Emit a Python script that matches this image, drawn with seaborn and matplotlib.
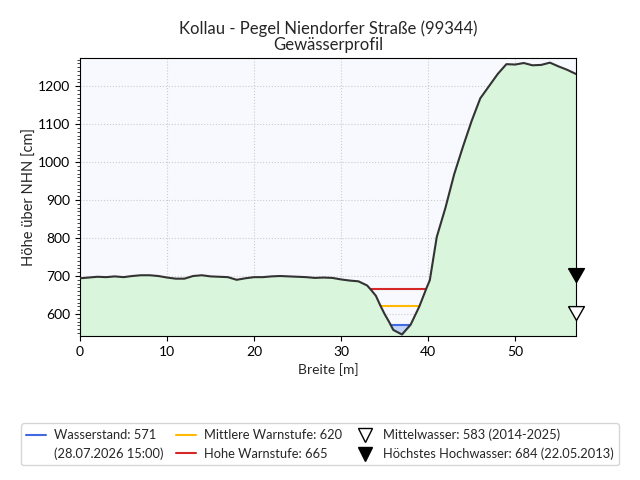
import numpy as np
import pandas as pd
import seaborn as sns
import matplotlib.pyplot as plt
from matplotlib.ticker import MultipleLocator
from matplotlib.lines import Line2D

# profile of the river bed (distance in m, height in cm above NHN)
breite = [0, 1, 2, 3, 4, 5, 6, 7, 8, 9, 10, 11, 12, 13, 14, 15, 16, 17, 18, 19,
          20, 21, 22, 23, 24, 25, 26, 27, 28, 29, 30, 31, 32, 33, 33.5, 34, 34.5,
          35, 35.5, 36, 37, 38, 39, 39.8, 40.2, 41, 42, 43, 44, 45, 46, 47, 48,
          49, 50, 51, 52, 53, 54, 55, 56, 57]
hoehe = [694, 696, 698, 697, 699, 697, 700, 702, 702, 700, 696, 693, 693, 700,
         702, 699, 698, 697, 690, 694, 697, 697, 699, 700, 699, 698, 697, 695,
         696, 695, 691, 688, 686, 675, 662, 648, 623, 600, 580, 558, 546, 572,
         620, 667, 689, 803, 880, 968, 1040, 1108, 1168, 1200, 1232, 1258, 1257,
         1261, 1255, 1256, 1262, 1252, 1243, 1232]

wasserstand = 571
mittlere_warnstufe = 620
hohe_warnstufe = 665
mittelwasser = 583
hhw = 684

sns.set_style("ticks")
plt.rcParams['font.family'] = ['Lato', 'DejaVu Sans']

df = pd.DataFrame({'Breite': breite, 'Hoehe': hoehe})

fig, ax = plt.subplots(figsize=(6.4, 4.8), dpi=100)
fig.subplots_adjust(left=0.125, right=0.9, top=0.879, bottom=0.3)
ax.set_facecolor('#f8f8ff')

xmax = max(breite)
ymin = min(hoehe) - 4
ymax = max(hoehe) + 12

# ground fill and outline
ax.fill_between(df['Breite'], ymin, df['Hoehe'], color='#d9f5dc', zorder=1)
sns.lineplot(data=df, x='Breite', y='Hoehe', ax=ax, color='#333333', linewidth=1.5, zorder=5)


def crossing(level):
    # left and right point where the channel reaches this level
    x = np.array(breite, dtype=float)
    y = np.array(hoehe, dtype=float)
    low = int(np.argmin(y))
    left = np.interp(level, y[:low + 1][::-1], x[:low + 1][::-1])
    right = np.interp(level, y[low:], x[low:])
    return left, right


# water body
xf = np.linspace(*crossing(wasserstand), 50)
yf = np.interp(xf, breite, hoehe)
ax.fill_between(xf, yf, wasserstand, color='#c4d4f4', zorder=2)

for level, col in [(wasserstand, '#4169e1'), (mittlere_warnstufe, '#ffb900'),
                   (hohe_warnstufe, '#d62728')]:
    l, r = crossing(level)
    ax.hlines(level, l, r, color=col, linewidth=1.5, zorder=3)

# triangle with its tip at the marked level
tip_down = [(-0.57, 1), (0.57, 1), (0, 0), (-0.57, 1)]
ax.plot(xmax, mittelwasser, marker=tip_down, markersize=20, markerfacecolor='white',
        markeredgecolor='black', markeredgewidth=1, clip_on=False, zorder=6, linestyle='none')
ax.plot(xmax, hhw, marker=tip_down, markersize=20, color='black', clip_on=False,
        zorder=6, linestyle='none')

ax.set_xlim(0, xmax)
ax.set_ylim(ymin, ymax)
ax.xaxis.set_major_locator(MultipleLocator(10))
ax.yaxis.set_major_locator(MultipleLocator(100))
ax.yaxis.set_minor_locator(MultipleLocator(10))
ax.grid(True, which='major', linestyle=':', color='#cccccc', linewidth=0.8)
for s in ax.spines.values():
    s.set_color('black')
ax.tick_params(colors='black')

ax.set_title('Kollau - Pegel Niendorfer Straße (99344)\nGewässerprofil', fontsize=12, linespacing=1.0)
ax.set_xlabel('Breite [m]', fontsize=10)
ax.set_ylabel('Höhe über NHN [cm]', fontsize=10.5, labelpad=0.5)

handles = [
    Line2D([], [], color='#4169e1', linewidth=1.5),
    Line2D([], [], color='none'),
    Line2D([], [], color='#ffb900', linewidth=1.5),
    Line2D([], [], color='#d62728', linewidth=1.5),
    Line2D([], [], marker='v', markersize=10, markerfacecolor='white',
           markeredgecolor='black', linestyle='none'),
    Line2D([], [], marker='v', markersize=10, color='black', linestyle='none'),
]
labels = [
    f'Wasserstand: {wasserstand}',
    '(28.07.2026 15:00)',
    f'Mittlere Warnstufe: {mittlere_warnstufe}',
    f'Hohe Warnstufe: {hohe_warnstufe}',
    f'Mittelwasser: {mittelwasser} (2014-2025)',
    f'Höchstes Hochwasser: {hhw} (22.05.2013)',
]
leg = fig.legend(handles, labels, loc='lower center', bbox_to_anchor=(0.5, 0.017), ncol=3,
                 fontsize=9.3, frameon=True, columnspacing=1.0, handlelength=1.55,
                 handletextpad=0.6, fancybox=True)
leg.get_frame().set_edgecolor('#cccccc')

plt.savefig('out.png', dpi=100)
